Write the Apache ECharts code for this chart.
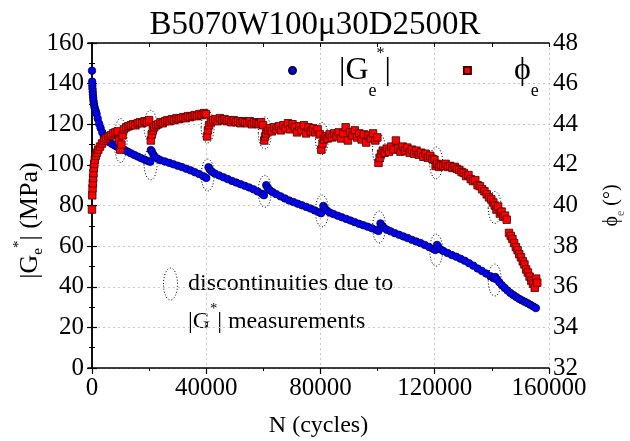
<!DOCTYPE html>
<html>
<head>
<meta charset="utf-8">
<script src="https://cdn.jsdelivr.net/npm/echarts@6/dist/echarts.min.js"></script>
<style>html,body{margin:0;padding:0;background:#fff;}#c{width:630px;height:441px;}</style>
</head>
<body>
<div id="c"></div>
<script>
// ---- data ----
const titleText = 'B5070W100\u03bc30D2500R';
const xLabelValues = [0, 40000, 80000, 120000, 160000];
const xMinorValues = [20000, 60000, 100000, 140000];
const xTopValues = [0, 20000, 40000, 60000, 80000, 100000, 120000, 140000, 160000];

// |Ge*| (MPa) vs N
const gN = [0,60,120,180,250,330,420,520,650,800,1000,1300,1600,2000,2500,3000,3600,4200,5000,6000,7000,8000,9000,10000,11200,12400,13600,14800,16000,17200,18400,19600,20400,
  20600,21000,21500,22000,23000,24000,25500,27000,28500,30000,31500,33000,34500,36000,37500,39000,40000,
  40800,41300,42000,43000,44500,46000,47500,49000,50500,52000,53500,55000,56500,58000,59500,60200,
  61000,61500,62200,63200,64500,66000,67500,69000,70500,72000,73500,75000,76500,78000,79500,80200,
  81000,81500,82200,83200,84500,86000,87500,89000,90500,92000,93500,95000,96500,98000,99500,100300,
  101000,101500,102200,103200,104500,106000,107500,109000,110500,112000,113500,115000,116500,118000,119500,120200,
  120800,121300,122000,123000,124500,126000,127500,129000,130500,132000,133500,135000,136500,138000,139500,140600,
  141200,141800,142600,143500,144500,145500,146500,147500,148500,149500,150500,151500,152500,153500,154500,155400];
const gVal = [146.4,141,139,137.5,136,134.5,133,131.5,130.2,129,127.8,126.5,125.2,122.8,120.3,118.2,116,114,112.5,111.2,110.3,109.5,108.8,108.2,107.4,106.6,105.7,104.9,104.1,103.3,102.6,101.9,101.5,
  107.3,106.5,105,104,103,102.3,101.7,101,100.3,99.6,98.9,98.1,97.3,96.4,95.5,94.4,93.6,
  98.8,97.6,96.6,95.7,94.8,93.9,93,92.1,91.3,90.5,89.7,88.9,88,86.9,85.8,85.1,
  90,88.7,87.6,86.6,85.6,84.5,83.5,82.5,81.7,80.9,80.1,79.3,78.5,77.6,76.7,76.2,
  79.8,78.5,77.5,76.6,75.8,75,74.2,73.4,72.6,71.8,71,70.3,69.6,68.8,68,67.5,
  71.2,70,69,68.1,67.3,66.4,65.6,64.8,64,63.1,62.3,61.5,60.6,59.6,58.6,58.1,
  60.6,59.4,58.4,57.6,56.6,55.6,54.8,53.8,52.8,51.6,50.4,49,47.8,46.5,45.2,44.2,
  44.8,43.6,42.2,40.8,39.4,38.1,36.9,35.9,35,34.1,33.3,32.6,31.9,31.1,30.3,29.5];

// phi_e (deg) vs N
const pN = [0,100,200,300,400,500,650,800,1000,1300,1700,2200,2800,3500,4200,5000,5800,6600,7400,8200,9000,9500,9900,10300,10700,11200,12000,12800,13600,14400,15200,16000,16800,17600,18400,19200,20000,
  20600,20900,21300,21800,22500,23200,24000,24800,25600,26400,27200,28000,28800,29600,30400,31200,32000,32800,33600,34400,35200,36000,36800,37600,38400,39200,39900,
  40300,40600,41000,41600,42400,43200,44000,44800,45600,46400,47200,48000,48800,49600,50400,51200,52000,52800,53600,54400,55200,56000,56800,57600,58400,59200,59900,
  60300,60600,61000,61600,62300,63000,63800,64600,65400,66200,67000,67800,68600,69400,70200,71000,71800,72600,73400,74200,75000,75800,76600,77400,78200,79000,79800,
  80300,80700,81200,81800,82500,83200,84000,84800,85600,86400,87200,88000,88800,89600,90400,91200,92000,92800,93600,94400,95200,96000,96800,97600,98400,99200,99900,
  100300,100700,101200,101800,102500,103200,104000,104800,105600,106400,107200,108000,108800,109600,110400,111200,112000,112800,113600,114400,115200,116000,116800,117600,118400,119200,119900,
  120300,120800,121500,122200,123000,123800,124600,125400,126200,127000,127800,128600,129400,130200,131000,131800,132600,133400,134200,135000,135800,136600,137400,138200,139000,139800,140500,
  141000,141600,142200,142800,143400,144000,144600,145200,146000,146600,147200,147800,148400,149000,149600,150200,150800,151400,152000,152600,153200,153800,154400,155000,155500,155900];
const pVal = [39.8,40.5,40.85,41.1,41.35,41.6,41.85,42.05,42.25,42.45,42.6,42.75,42.9,43.05,43.2,43.3,43.4,43.45,43.55,43.6,43.65,43.2,42.75,43.0,43.45,43.75,43.85,43.9,43.95,44.0,43.95,44.05,44.1,44.05,44.15,44.1,44.2,
  43.2,43.5,43.7,43.85,43.95,44.0,44.1,44.05,44.15,44.2,44.15,44.25,44.2,44.3,44.25,44.3,44.35,44.3,44.4,44.35,44.4,44.45,44.4,44.5,44.45,44.55,44.5,
  43.4,43.7,43.95,44.1,44.2,44.25,44.15,44.3,44.2,44.25,44.15,44.2,44.1,44.2,44.1,44.15,44.05,44.15,44.1,44.05,44.15,44.0,44.1,44.05,44.0,44.1,43.95,
  43.2,43.4,43.55,43.7,43.8,43.65,43.85,43.75,43.9,43.7,43.95,43.8,44.05,43.75,44.0,43.85,43.6,43.9,43.7,43.95,43.55,43.85,43.65,43.8,43.6,43.75,43.5,
  42.75,43.05,43.25,43.4,43.3,43.5,43.35,43.55,43.4,43.6,43.3,43.55,43.85,43.2,43.6,43.45,43.7,43.35,43.55,43.25,43.5,43.1,43.45,43.3,43.55,43.2,43.35,
  42.1,42.35,42.55,42.7,42.6,42.8,42.65,42.9,42.75,43.2,42.8,42.65,42.9,42.7,42.85,42.6,42.75,42.55,42.7,42.5,42.6,42.4,42.55,42.35,42.45,42.3,42.25,
  41.95,42.05,41.9,42.0,41.95,42.05,41.9,41.95,41.85,41.9,41.8,41.75,41.65,41.6,41.45,41.5,41.3,41.2,41.25,41.0,40.95,40.8,40.7,40.55,40.4,40.3,40.15,
  40.0,39.8,39.95,39.6,39.7,39.45,39.5,39.3,38.65,38.5,38.35,38.15,37.95,37.8,37.6,37.45,37.25,37.1,36.85,36.7,36.5,36.3,36.15,35.95,36.4,36.2];

// discontinuity markers (dotted ellipses)
const gEllipseN = [20500, 40500, 60500, 80500, 100500, 120500, 141000];
const gEllipseV = [100.5, 95, 87, 77.3, 69.4, 58, 43.3];
const pEllipseN = [10000, 20500, 40500, 60500, 80500, 100500, 120500, 141000];
const pEllipseV = [43.2, 43.9, 43.87, 43.57, 43.3, 42.73, 42.1, 39.9];

// ---- chart ----
const FONT = 'Liberation Serif';
const PHI = '\u03d5';
const chart = echarts.init(document.getElementById('c'), null, {renderer: 'canvas'});
const zip = (a, b) => a.map((v, i) => [v, b[i]]);
const dotted = {fill: 'none', stroke: '#000', lineWidth: 1, lineDash: [1, 2]};
function ellipseRender(ry0) {
  return function (params, api) {
    const c = api.coord([api.value(0), api.value(1)]);
    const ry = (ry0 && params.dataIndex === 0) ? ry0 : 16;
    return {type: 'ellipse', shape: {cx: c[0], cy: c[1], rx: 6.5, ry: ry}, style: dotted};
  };
}
const gridLine = {show: true, lineStyle: {color: '#c8c8c8', type: [2, 3], width: 1}};
const axisLineBlack = {show: true, lineStyle: {color: '#000', width: 1.5}};
const plain = v => String(v);

const option = {
  backgroundColor: '#fff',
  animation: false,
  title: {
    text: titleText, left: 'center', top: 4,
    textStyle: {fontFamily: FONT, fontSize: 33, fontWeight: 'normal', color: '#000'}
  },
  legend: {
    left: 288, top: 39.5, padding: 0, itemGap: 72, itemWidth: 7, itemHeight: 7,
    data: [{name: 'G', icon: 'circle'}, {name: 'phi', icon: 'rect'}],
    formatter: function (name) {
      return name === 'G' ? '{sp| }{big||G}{sub|e}{sup|*}{big||}' : '{sp| }{big|' + PHI + '}{sub|e}';
    },
    textStyle: {
      color: '#000', fontFamily: FONT,
      rich: {
        sp: {width: 38, fontSize: 10},
        big: {fontFamily: FONT, fontSize: 32, lineHeight: 34, padding: [13, 0, 13, 0], color: '#000'},
        sub: {fontFamily: FONT, fontSize: 18, lineHeight: 18, padding: [42, 0, 0, 0], color: '#000'},
        sup: {fontFamily: FONT, fontSize: 16, lineHeight: 14, padding: [6, 0, 40, 0], color: '#000'}
      }
    }
  },
  grid: {left: 88, right: 81, top: 43, bottom: 73, containLabel: false, outerBoundsMode: 'none'},
  xAxis: [
    {
      type: 'value', min: -1400, max: 160000, position: 'bottom',
      name: 'N (cycles)', nameLocation: 'middle', nameGap: 46, nameMoveOverlap: false,
      nameTextStyle: {fontFamily: FONT, fontSize: 24, color: '#000'},
      axisLine: axisLineBlack,
      axisTick: {show: true, inside: false, length: 6, customValues: xLabelValues, lineStyle: {color: '#000', width: 1.2}},
      axisLabel: {show: true, customValues: xLabelValues, formatter: plain, fontFamily: FONT, fontSize: 25, color: '#000', margin: 8},
      splitLine: gridLine
    },
    {
      type: 'value', min: -1400, max: 160000, position: 'bottom',
      axisLine: {show: false},
      axisTick: {show: true, inside: false, length: 3, customValues: xMinorValues, lineStyle: {color: '#000', width: 1}},
      axisLabel: {show: false}, splitLine: {show: false}
    },
    {
      type: 'value', min: -1400, max: 160000, position: 'top',
      axisLine: axisLineBlack,
      axisTick: {show: true, inside: true, length: 4, customValues: xTopValues, lineStyle: {color: '#000', width: 1}},
      axisLabel: {show: false}, splitLine: {show: false}
    }
  ],
  yAxis: [
    {
      type: 'value', min: 0, max: 160, interval: 20, position: 'left',
      name: '{a||G}{s|e}{p|*}{a|| (MPa)}', nameLocation: 'middle', nameGap: 45, nameRotate: 90, nameMoveOverlap: false,
      nameTextStyle: {
        color: '#000', padding: [0, 30, 0, 0],
        rich: {
          a: {fontFamily: FONT, fontSize: 26, lineHeight: 26, padding: [10, 0, 10, 0], color: '#000'},
          s: {fontFamily: FONT, fontSize: 15, lineHeight: 15, padding: [24, 0, 7, 0], color: '#000'},
          p: {fontFamily: FONT, fontSize: 15, lineHeight: 14, padding: [5, 0, 27, 0], color: '#000'}
        }
      },
      axisLine: axisLineBlack,
      axisTick: {show: true, inside: false, length: 5, lineStyle: {color: '#000', width: 1.2}},
      minorTick: {show: true, splitNumber: 2, length: 3, lineStyle: {color: '#000', width: 1}},
      axisLabel: {fontFamily: FONT, fontSize: 25, color: '#000', margin: 4},
      splitLine: gridLine
    },
    {
      type: 'value', min: 32, max: 48, interval: 2, position: 'right',
      name: '{a|' + PHI + '}{s|e}{a| (\u00b0)}', nameLocation: 'middle', nameGap: 52, nameRotate: 90, nameMoveOverlap: false,
      nameTextStyle: {
        color: '#000',
        rich: {
          a: {fontFamily: FONT, fontSize: 20, lineHeight: 22, padding: [8, 0, 8, 0], color: '#000'},
          s: {fontFamily: FONT, fontSize: 12, lineHeight: 12, padding: [22, 0, 4, 0], color: '#666'}
        }
      },
      axisLine: axisLineBlack,
      axisTick: {show: true, inside: false, length: 5, lineStyle: {color: '#000', width: 1.2}},
      minorTick: {show: true, splitNumber: 2, length: 3, lineStyle: {color: '#000', width: 1}},
      axisLabel: {fontFamily: FONT, fontSize: 25, color: '#000', margin: 4},
      splitLine: {show: false}
    }
  ],
  series: [
    {
      type: 'custom', name: 'gDisc', xAxisIndex: 0, yAxisIndex: 0, z: 1, silent: true,
      renderItem: ellipseRender(0), data: zip(gEllipseN, gEllipseV)
    },
    {
      type: 'custom', name: 'pDisc', xAxisIndex: 0, yAxisIndex: 1, z: 1, silent: true,
      renderItem: ellipseRender(22), data: zip(pEllipseN, pEllipseV)
    },
    {
      type: 'scatter', name: 'G', xAxisIndex: 0, yAxisIndex: 0, z: 3,
      symbol: 'circle', symbolSize: 7.5,
      itemStyle: {color: '#0000ff', borderColor: '#000040', borderWidth: 0.8, opacity: 1},
      data: zip(gN, gVal)
    },
    {
      type: 'scatter', name: 'phi', xAxisIndex: 0, yAxisIndex: 1, z: 4,
      symbol: 'rect', symbolSize: 7.5,
      itemStyle: {color: '#ff0000', borderColor: '#400000', borderWidth: 0.8, opacity: 1},
      data: zip(pN, pVal)
    }
  ],
  graphic: [
    {type: 'ellipse', shape: {cx: 170.5, cy: 284, rx: 7, ry: 16}, style: dotted, silent: true},
    {type: 'text', x: 188, y: 284, silent: true,
      style: {text: 'discontinuities due to', fontFamily: FONT, fontSize: 24, fill: '#000', align: 'left', verticalAlign: 'middle'}},
    {type: 'text', x: 188, y: 322, silent: true,
      style: {
        text: '{a||G}{p|*}{a|| measurements}', fill: '#000', align: 'left', verticalAlign: 'middle',
        rich: {
          a: {fontFamily: FONT, fontSize: 24, lineHeight: 26, padding: [8, 0, 8, 0], fill: '#000'},
          p: {fontFamily: FONT, fontSize: 14, lineHeight: 14, padding: [1, 0, 27, 0], fill: '#000'}
        }
      }}
  ]
};
chart.setOption(option);
</script>
</body>
</html>
